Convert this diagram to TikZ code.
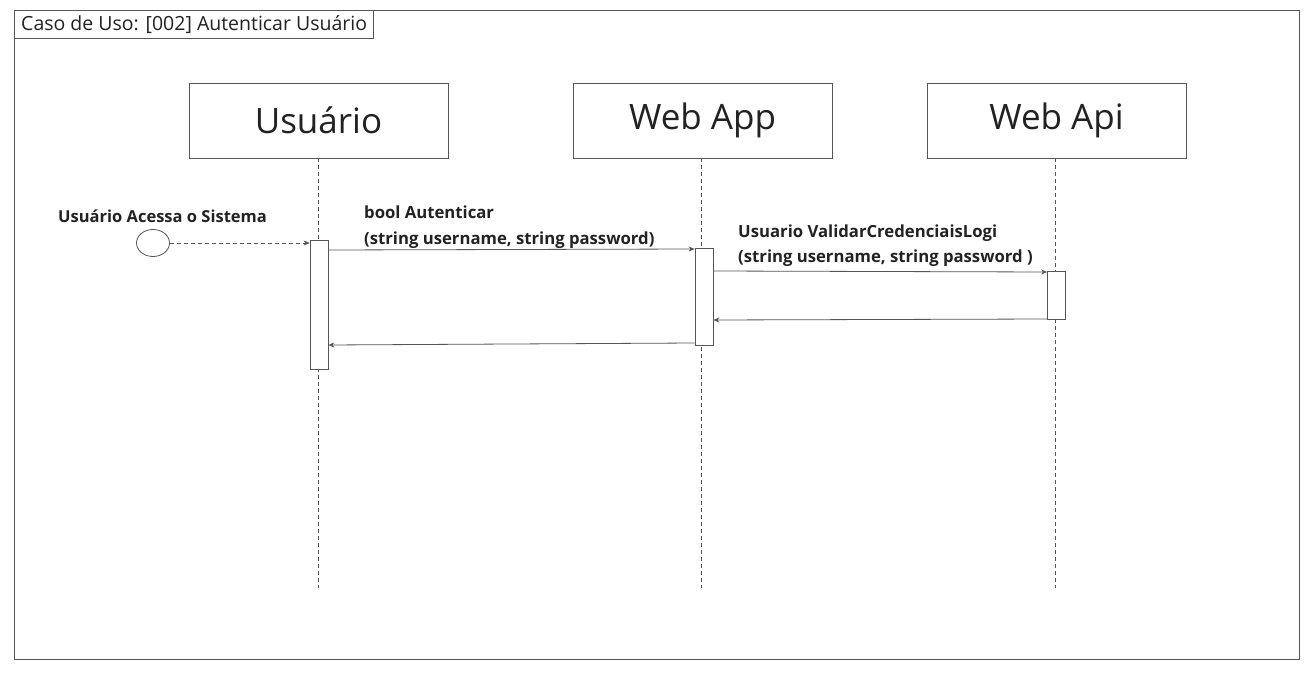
\documentclass[tikz,border=0pt]{standalone}
\usepackage{fontspec}
\setmainfont{Open Sans}
\usetikzlibrary{arrows.meta,shapes.geometric}
\definecolor{ln}{HTML}{555555}
\definecolor{tx}{HTML}{222222}
\begin{document}
\begin{tikzpicture}[x=1pt,y=-1pt,
  hdr/.style={draw=ln,line width=0.8pt,minimum width=259pt,minimum height=75pt,inner sep=0pt,font=\fontsize{35}{40}\selectfont,text=tx},
  actbox/.style={draw=ln,fill=white,line width=0.8pt,minimum width=18pt,inner sep=0pt},
  life/.style={draw=ln,dashed,dash pattern=on 4pt off 3pt,line width=0.6pt},
  msg/.style={draw=ln,line width=0.8pt,-{Stealth[length=6pt,width=5pt]}},
  lbl/.style={font=\bfseries\fontsize{16.7}{25}\selectfont,text=tx,align=left,anchor=base west,inner sep=0pt}
]
\useasboundingbox (0,0) rectangle (1316,676);
\fill[white] (0,0) rectangle (1316,676);
% frame
\node[draw=ln,line width=0.8pt,minimum width=1285pt,minimum height=649pt,inner sep=0pt,anchor=north west] (frame) at (14,10) {};
\node[draw=ln,line width=0.8pt,minimum width=359pt,minimum height=28pt,inner sep=0pt,anchor=north west,font=\fontsize{19.5}{22}\selectfont,text=tx] (title) at (14,10) {};
\node[anchor=base west,inner sep=0pt,font=\fontsize{19.5}{22}\selectfont,text=tx] (titletext) at (21,31) {Caso de Uso: [002] Autenticar Usuário};
% headers
\node[hdr] (u) at (318.5,120.5) {Usuário};
\node[hdr] (wa) at (702.5,120.5) {Web App};
\node[hdr] (wp) at (1056.5,120.5) {Web Api};
% lifeline ends
\coordinate (ue) at (318.5,588);
\coordinate (wae) at (701.5,588);
\coordinate (wpe) at (1055.5,588);
\draw[life] (u.south) -- (ue);
\draw[life] (wa.south -| wae) -- (wae);
\draw[life] (wp.south -| wpe) -- (wpe);
% activations
\node[actbox,minimum height=129pt,anchor=north] (ua) at (319,240) {};
\node[actbox,minimum height=97pt,anchor=north] (waa) at (704,248) {};
\node[actbox,minimum height=48pt,anchor=north] (wpa) at (1056.5,271) {};
% start
\node[draw=ln,line width=0.8pt,ellipse,minimum width=33pt,minimum height=27pt,inner sep=0pt] (st) at (153,243) {};
\node[font=\bfseries\fontsize{16.5}{20}\selectfont,text=tx,inner sep=0pt,anchor=base] (stl) at (162.5,223) {Usuário Acessa o Sistema};
\draw[msg,dashed,dash pattern=on 4pt off 3pt,line width=0.6pt] (st.east) -- (st.east -| ua.west);
% messages
\draw[msg] (ua.east |- 0,250) -- (waa.west |- 0,249);
\node[lbl] (m1) at (364,244) {bool Autenticar\\(string username, string password)};
\draw[msg] (waa.east |- 0,271) -- (wpa.west |- 0,272);
\node[lbl] (m2) at (738,262) {Usuario ValidarCredenciaisLogi\\(string username, string password )};
\draw[msg] (wpa.west |- 0,319) -- (waa.east |- 0,320);
\draw[msg] (waa.west |- 0,343) -- (ua.east |- 0,345);
\end{tikzpicture}
\end{document}
